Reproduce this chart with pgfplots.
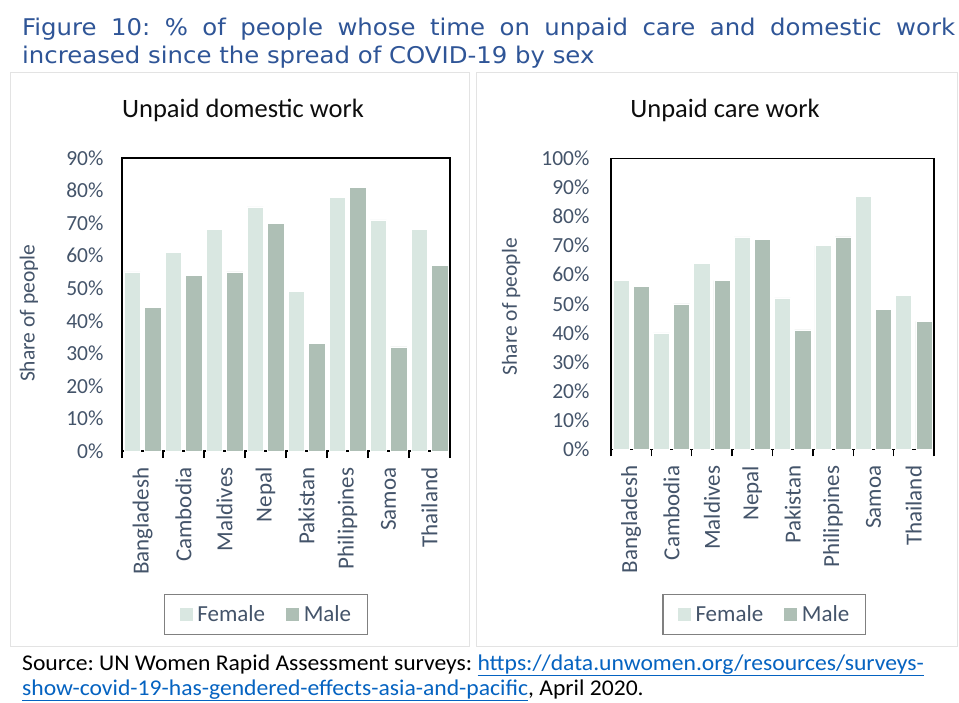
\documentclass[border=0pt]{standalone}
\usepackage{pgfplots}
\pgfplotsset{compat=1.18}
\usepackage{fontspec}
\setmainfont{Carlito}
\newfontfamily\verdana[FakeStretch=1.06]{DejaVu Sans}
\newfontfamily\srcfont[FakeStretch=1.05]{Carlito}
\definecolor{txt}{HTML}{44546A}
\definecolor{ttl}{HTML}{2F5597}
\definecolor{fem}{HTML}{D9E7E1}
\definecolor{mal}{HTML}{AEBFB5}
\definecolor{lnk}{HTML}{0563C1}
\definecolor{frame}{HTML}{E3E3E3}
\newcommand{\tfont}{\fontsize{21.5}{24}\selectfont}
\newcommand{\xfont}{\fontsize{23}{26}\selectfont}
\frenchspacing

\pgfplotstableread{
idx dfem dmal cfem cmal
0 55 44 58 56
1 61 54 40 50
2 68 55 64 58
3 75 70 73 72
4 49 33 52 41
5 78 81 70 73
6 71 32 87 48
7 68 57 53 44
}\datatab

\pgfplotsset{
  panel/.style={
    scale only axis, ymin=0, xmin=-0.5, xmax=7.5,
    xtick={0,...,7},
    xticklabels={Bangladesh,Cambodia,Maldives,Nepal,Pakistan,Philippines,Samoa,Thailand},
    minor xtick={-0.5,0.5,...,7.5},
    major tick length=0pt, minor tick length=7pt, tick align=outside,
    major tick style={draw=none},
    xtick pos=bottom, ytick pos=left,
    axis line style={black, line width=1.4pt},
    minor tick style={black, line width=1.4pt},
    ticklabel style={font=\tfont, text=txt},
    xticklabel style={rotate=90, anchor=east, font=\xfont},
    xticklabel shift=13pt,
    yticklabel={\pgfmathprintnumber{\tick}\%},
    /pgf/number format/assume math mode=true,
    ylabel={Share of people},
    ylabel style={font=\tfont, text=txt},
    legend columns=2,
    legend image code/.code={\fill[##1] (0pt,-7pt) rectangle (14pt,7pt);},
    legend style={draw=gray, line width=1.2pt, font=\xfont, text=txt,
      inner xsep=14pt, inner ysep=9pt,
      /tikz/every odd column/.append style={column sep=2pt},
      /tikz/every even column/.append style={column sep=18pt}},
  },
  fbar/.style={ybar, bar width=0.4, bar shift=-0.25, fill=fem, draw=white, line width=0.6pt},
  mbar/.style={ybar, bar width=0.4, bar shift=0.25, fill=mal, draw=white, line width=0.6pt},
}

\begin{document}
\begin{tikzpicture}[x=1pt,y=1pt]
\useasboundingbox (0,0) rectangle (959,702);
\fill[white] (0,0) rectangle (959,702);
% panel frames
\draw[frame, line width=1pt] (10,56) rectangle (469,629);
\draw[frame, line width=1pt] (476,56) rectangle (957,629);

% title
\node[anchor=base west, inner sep=0pt, text=ttl, font=\verdana\fontsize{23}{26}\selectfont] at (22,666)
  {\makebox[933pt][s]{Figure 10: \% of people whose time on unpaid care and domestic work}};
\node[anchor=base west, inner sep=0pt, text=ttl, font=\verdana\fontsize{23}{26}\selectfont] at (22,638)
  {increased since the spread of COVID-19 by sex};

% chart titles
\node[font=\fontsize{26.5}{30}\selectfont, text=black!95] at (243,592) {Unpaid domestic work};
\node[font=\fontsize{26.5}{30}\selectfont, text=black!95] at (725,592) {Unpaid care work};

\begin{axis}[panel, at={(122pt,251pt)}, anchor=south west,
  width=328pt, height=293pt, ymax=90, ytick={0,10,...,90},
  yticklabel shift=15pt,
  ylabel style={at={(axis description cs:-0.245,0.47)}},
  legend style={at={(axis description cs:0.439,-0.558)}, anchor=center}]
\addplot[fbar] table[x=idx,y=dfem] {\datatab};
\addplot[mbar] table[x=idx,y=dmal] {\datatab};
\legend{Female,Male}
\end{axis}

\begin{axis}[panel, at={(611pt,252.7pt)}, anchor=south west,
  width=323pt, height=291pt, ymax=100, ytick={0,10,...,100},
  yticklabel shift=18pt,
  ylabel style={at={(axis description cs:-0.27,0.49)}},
  legend style={at={(axis description cs:0.474,-0.568)}, anchor=center}]
\addplot[fbar] table[x=idx,y=cfem] {\datatab};
\addplot[mbar] table[x=idx,y=cmal] {\datatab};
\legend{Female,Male}
\end{axis}

% source
\node[anchor=base west, inner sep=0pt, font=\srcfont\fontsize{22.5}{26}\selectfont] at (22,32)
  {Source: UN Women Rapid Assessment surveys: \textcolor{lnk}{\underline{https://data.unwomen.org/resources/surveys-}}};
\node[anchor=base west, inner sep=0pt, font=\srcfont\fontsize{22.5}{26}\selectfont] at (22,7)
  {\textcolor{lnk}{\underline{show-covid-19-has-gendered-effects-asia-and-pacific}}, April 2020.};
\end{tikzpicture}
\end{document}
